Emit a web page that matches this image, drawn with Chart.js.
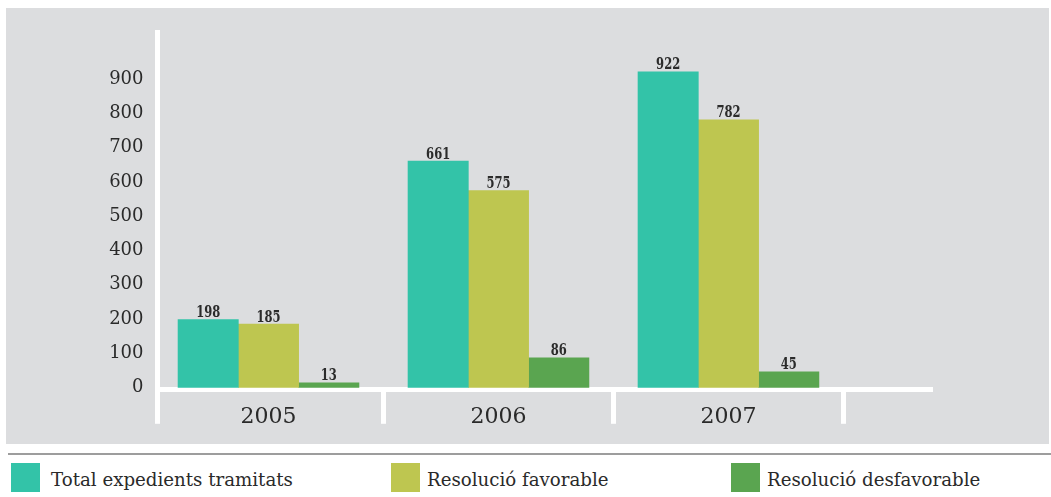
<!DOCTYPE html>
<html>
<head>
<meta charset="utf-8">
<script src="https://cdn.jsdelivr.net/npm/chart.js@4.4.1/dist/chart.umd.min.js"></script>
<style>
  html, body { margin: 0; padding: 0; background: #ffffff; width: 1051px; height: 497px; overflow: hidden; position: relative; }
  #panel { position: absolute; left: 6px; top: 8px; width: 1043px; height: 436px; background: #dcdddf; }
  #chart { display: block; }
  #sep { position: absolute; left: 8px; top: 453px; width: 1043px; height: 2px; background: #9d9d9d; }
  .lg-box { position: absolute; top: 463px; width: 29px; height: 29px; }
  .lg-txt { position: absolute; top: 469px; font-family: "DejaVu Serif", serif; font-size: 18.2px; line-height: 22px; color: #2a2a2a; white-space: nowrap; }
</style>
</head>
<body>
<div id="panel"><canvas id="chart" width="1043" height="436"></canvas></div>
<div id="sep"></div>
<div id="legend"></div>
<script>
// ---- data ----
const categories = ['2005', '2006', '2007'];
const seriesNames = ['Total expedients tramitats', 'Resolució favorable', 'Resolució desfavorable'];
const totalExpedients = [198, 661, 922];
const resolucioFavorable = [185, 575, 782];
const resolucioDesfavorable = [13, 86, 45];
const yTickValues = [0, 100, 200, 300, 400, 500, 600, 700, 800, 900];

// ---- styles ----
const seriesColors = ['#33c3a8', '#bec650', '#5aa550'];
const X_MIN = -0.4826, X_MAX = 2.885;
const xTickValues = [X_MIN, 0, 0.5, 1, 1.5, 2, 2.5];

const seriesValues = [totalExpedients, resolucioFavorable, resolucioDesfavorable];
const datasets = seriesValues.map((vals, s) => ({
  label: seriesNames[s],
  data: vals.map((v, i) => ({ x: i, y: v })),
  backgroundColor: seriesColors[s],
  borderWidth: 0,
  barThickness: 60.3
}));

const valueLabels = {
  id: 'valueLabels',
  afterDatasetsDraw(chart) {
    const ctx = chart.ctx;
    ctx.save();
    ctx.fillStyle = '#2b2b2b';
    ctx.font = 'bold 17px "DejaVu Serif"';
    ctx.textAlign = 'center';
    ctx.textBaseline = 'alphabetic';
    chart.data.datasets.forEach((ds, di) => {
      const meta = chart.getDatasetMeta(di);
      meta.data.forEach((bar, i) => {
        const v = ds.data[i].y;
        ctx.save();
        ctx.translate(bar.x, bar.y - 2.5);
        ctx.scale(0.68, 1);
        ctx.fillText(String(v), 0, 0);
        ctx.restore();
      });
    });
    ctx.restore();
  }
};

new Chart(document.getElementById('chart'), {
  type: 'bar',
  data: { datasets },
  options: {
    responsive: false,
    animation: false,
    events: [],
    layout: { padding: { top: 22, right: 117, left: 0, bottom: 0 } },
    plugins: { legend: { display: false }, tooltip: { enabled: false } },
    scales: {
      x: {
        type: 'linear',
        min: X_MIN,
        max: X_MAX,
        offset: false,
        grid: {
          display: true,
          offset: false,
          drawOnChartArea: false,
          drawTicks: true,
          tickLength: 34,
          tickWidth: 5,
          tickColor: (c) => (c.tick && Number.isInteger(c.tick.value)) ? 'rgba(0,0,0,0)' : '#ffffff'
        },
        border: { display: true, color: '#ffffff', width: 5 },
        ticks: {
          autoSkip: false,
          maxRotation: 0,
          minRotation: 0,
          padding: -20,
          color: '#2a2a2a',
          font: { family: 'DejaVu Serif', size: 22 },
          callback: (v) => Number.isInteger(v) ? categories[v] : ''
        },
        afterBuildTicks: (s) => { s.ticks = xTickValues.map(v => ({ value: v })); },
        afterFit: (s) => { s.height = 54.2; }
      },
      y: {
        type: 'linear',
        min: -7.2,
        max: 1036,
        grid: { display: false, drawTicks: false },
        border: { display: true, color: '#ffffff', width: 5 },
        ticks: {
          padding: 14,
          color: '#2a2a2a',
          font: { family: 'DejaVu Serif', size: 18 }
        },
        afterBuildTicks: (s) => { s.ticks = yTickValues.map(v => ({ value: v })); },
        afterFit: (s) => { s.width = 151.5; }
      }
    }
  },
  plugins: [valueLabels]
});

// ---- HTML legend ----
const legendBoxLeft = [11, 391, 731];
const legendTextLeft = [51, 427, 767];
const lg = document.getElementById('legend');
seriesNames.forEach((name, i) => {
  const b = document.createElement('div');
  b.className = 'lg-box';
  b.style.left = legendBoxLeft[i] + 'px';
  b.style.background = seriesColors[i];
  lg.appendChild(b);
  const t = document.createElement('div');
  t.className = 'lg-txt';
  t.style.left = legendTextLeft[i] + 'px';
  t.textContent = name;
  lg.appendChild(t);
});
</script>
</body>
</html>
